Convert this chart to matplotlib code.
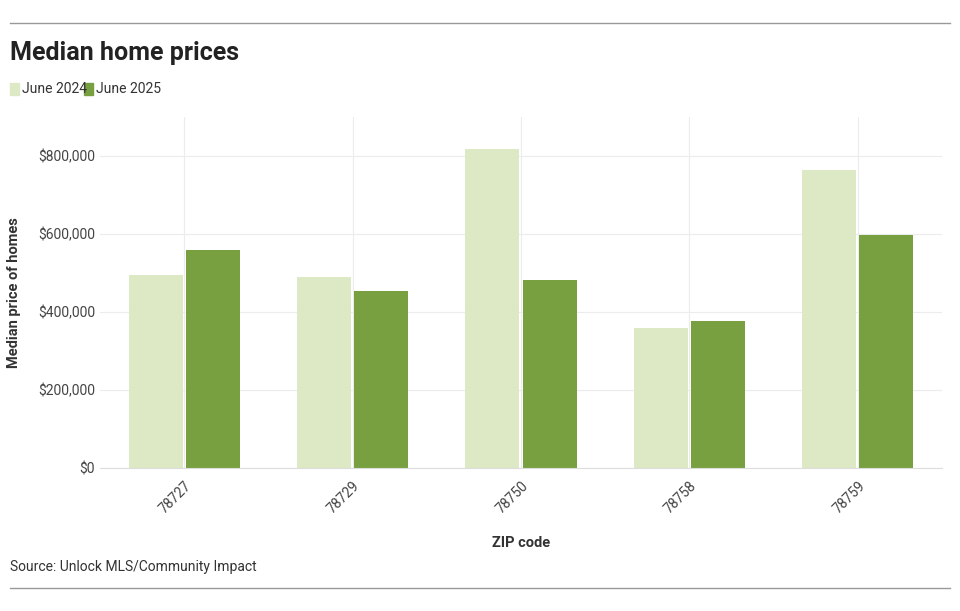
import matplotlib
matplotlib.use("Agg")
import matplotlib.pyplot as plt
import numpy as np
from matplotlib.ticker import FuncFormatter

zips = ["78727", "78729", "78750", "78758", "78759"]
june2024 = [495000, 490000, 818000, 359000, 764000]
june2025 = [559000, 454000, 482000, 377000, 597000]
yticks = [0, 200000, 400000, 600000, 800000]

plt.rcParams["font.family"] = "Roboto"
fig = plt.figure(figsize=(9.6, 6.11), dpi=100)
ax = fig.add_axes([100/960, 1-468/611, 842/960, (468-117)/611])
x = np.arange(len(zips))
w = 0.32
ax.bar(x - w/2 - 0.01, june2024, w, color="#dde8c4", zorder=2)
ax.bar(x + w/2 + 0.01, june2025, w, color="#78a040", zorder=2)
ax.set_xlim(-0.5, 4.5)
ax.set_ylim(0, 900000)
ax.set_yticks(yticks)
ax.yaxis.set_major_formatter(FuncFormatter(lambda v, p: f"${v:,.0f}"))
ax.set_xticks(x)
ax.set_xticklabels(zips, rotation=45, ha="right", rotation_mode="anchor")
ax.grid(True, color="#ececec", lw=0.8, zorder=0)
for s in ax.spines.values():
    s.set_visible(False)
ax.spines["bottom"].set_visible(True)
ax.spines["bottom"].set_color("#dddddd")
ax.tick_params(length=0, colors="#444444", labelsize=10)
ax.tick_params(axis="x", pad=8)
ax.set_ylabel("Median price of homes", fontsize=10.5, fontweight="bold", color="#333333", labelpad=12)
ax.set_xlabel("ZIP code", fontsize=10.5, fontweight="bold", color="#333333", labelpad=14)

fig.text(10/960, 1-53/611, "Median home prices", fontsize=18, fontweight="bold", color="#222222", va="center")
fig.patches.append(plt.Rectangle((10/960, 1-95/611), 9/960, 12/611, transform=fig.transFigure, color="#dde8c4"))
fig.text(22/960, 1-89/611, "June 2024", fontsize=10, color="#333333", va="center")
fig.patches.append(plt.Rectangle((84/960, 1-95/611), 9/960, 12/611, transform=fig.transFigure, color="#78a040"))
fig.text(96/960, 1-89/611, "June 2025", fontsize=10, color="#333333", va="center")
fig.text(10/960, 1-567/611, "Source: Unlock MLS/Community Impact", fontsize=10, color="#333333", va="center")
for yy in (23, 588):
    fig.add_artist(plt.Line2D([10/960, 950/960], [1-yy/611]*2, color="#999999", lw=1, transform=fig.transFigure))
fig.savefig("out.png", dpi=100, facecolor="white")
